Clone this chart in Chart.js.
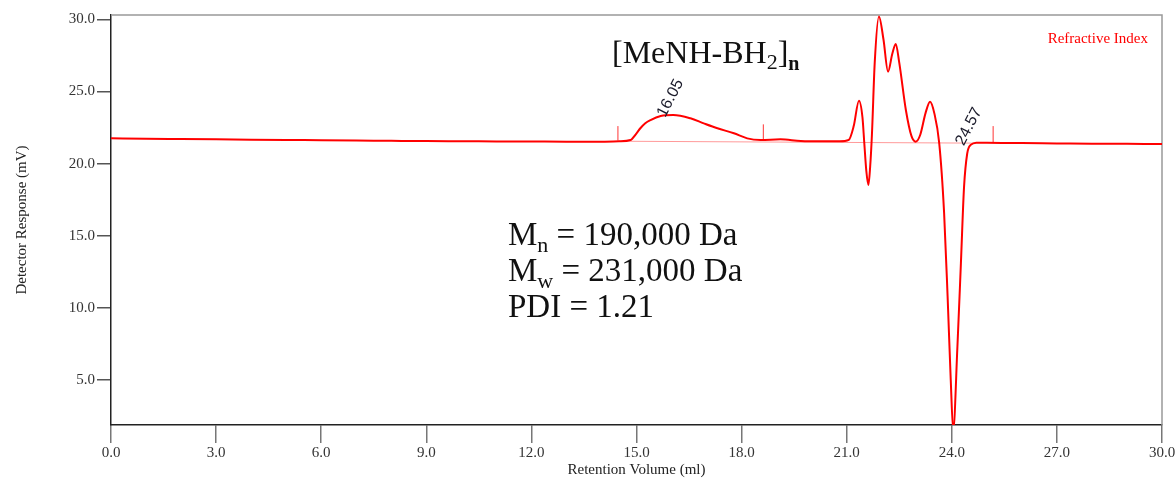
<!DOCTYPE html>
<html>
<head>
<meta charset="utf-8">
<script src="https://cdn.jsdelivr.net/npm/chart.js@4.4.1/dist/chart.umd.min.js"></script>
<style>
  html, body { margin: 0; padding: 0; background: #fff; }
  #gpc { display: block; }
</style>
</head>
<body>
<canvas id="gpc" width="1175" height="479"></canvas>
<script>
// retention volume (ml) and detector response (mV)
const retention = [
  0, 1, 2, 3, 4, 5, 6, 7, 8, 9, 10, 11, 12, 13, 14, 14.5, 14.83,
  15.0, 15.11, 15.25, 15.4, 15.69, 16.05, 16.54, 16.92, 17.31, 17.78, 18.16, 18.54,
  19.11, 19.69, 20.3, 20.8, 21.06, 21.2, 21.35, 21.45, 21.5, 21.56, 21.62, 21.67,
  21.72, 21.8, 21.92, 22.05, 22.18, 22.3, 22.4, 22.5, 22.69, 22.85, 22.97, 23.1,
  23.25, 23.38, 23.5, 23.64, 23.78, 23.88, 23.97, 24.04, 24.16, 24.26, 24.35, 24.44,
  24.54, 24.7, 25, 26, 27, 28, 29, 30
];
const response = [
  21.75, 21.72, 21.70, 21.68, 21.66, 21.64, 21.62, 21.60, 21.58, 21.56, 21.55, 21.54, 21.53, 21.52, 21.52, 21.55, 21.64,
  22.1, 22.45, 22.8, 23.02, 23.3, 23.37, 23.14, 22.79, 22.45, 22.1, 21.75, 21.64,
  21.68, 21.57, 21.55, 21.55, 21.65, 22.6, 24.36, 23.2, 21.5, 19.5, 18.52, 19.8,
  22.0, 27.0, 30.2, 28.6, 26.37, 27.6, 28.29, 27.0, 23.7, 21.9, 21.52, 22.0,
  23.5, 24.29, 23.5, 21.43, 16.6, 10.8, 5.0, 1.5, 7.3, 13.1, 18.4, 20.7,
  21.3, 21.45, 21.45, 21.42, 21.40, 21.38, 21.37, 21.36
];

// integration baseline and peak limit marks
const baseX = [14.5, 24.57];
const baseY = [21.55, 21.42];
const markX = [14.47, 18.62, 25.18];
const markLow = [21.6, 21.6, 21.45];
const markHigh = [22.6, 22.72, 22.6];

// labelled peak positions
const peakVol = [16.05, 24.57];
const peakResp = [23.37, 21.4];

const yTicks = [5, 10, 15, 20, 25, 30];

const serif = "'Liberation Serif', 'Times New Roman', serif";

const datasets = [
  {
    data: retention.map((v, i) => ({ x: v, y: response[i] })),
    borderColor: "#ff0000",
    borderWidth: 2,
    pointRadius: 0,
    cubicInterpolationMode: "monotone",
  },
  {
    data: baseX.map((v, i) => ({ x: v, y: baseY[i] })),
    borderColor: "rgba(255,0,0,0.4)",
    borderWidth: 1,
    pointRadius: 0,
  },
];
markX.forEach((v, i) => {
  datasets.push({
    data: [{ x: v, y: markLow[i] }, { x: v, y: markHigh[i] }],
    borderColor: "rgba(255,0,0,0.8)",
    borderWidth: 1,
    pointRadius: 0,
  });
});

function drawParts(ctx, x, y, parts) {
  parts.forEach((p) => {
    ctx.font = (p.bold ? "bold " : "") + p.size + "px " + serif;
    ctx.fillText(p.t, x, y + (p.dy || 0));
    x += ctx.measureText(p.t).width;
  });
}

const frame = {
  id: "frame",
  beforeDatasetsDraw(chart) {
    const a = chart.chartArea;
    const ctx = chart.ctx;
    ctx.save();
    ctx.strokeStyle = "#999";
    ctx.lineWidth = 1.5;
    ctx.beginPath();
    ctx.moveTo(a.left, a.top);
    ctx.lineTo(a.right, a.top);
    ctx.lineTo(a.right, a.bottom);
    ctx.stroke();
    ctx.restore();
  },
  afterDraw(chart) {
    const ctx = chart.ctx;
    const xs = chart.scales.x, ys = chart.scales.y;
    ctx.save();
    ctx.textBaseline = "alphabetic";
    ctx.textAlign = "left";

    // polymer name
    ctx.fillStyle = "#111";
    drawParts(ctx, 612, 63, [
      { t: "[MeNH-BH", size: 32 },
      { t: "2", size: 22, dy: 6 },
      { t: "]", size: 32 },
      { t: "n", size: 20, dy: 7, bold: true },
    ]);

    // molecular weight results
    drawParts(ctx, 508, 245, [
      { t: "M", size: 33 },
      { t: "n", size: 22, dy: 7 },
      { t: " = 190,000 Da", size: 33 },
    ]);
    drawParts(ctx, 508, 281, [
      { t: "M", size: 33 },
      { t: "w", size: 22, dy: 7 },
      { t: " = 231,000 Da", size: 33 },
    ]);
    drawParts(ctx, 508, 317, [{ t: "PDI = 1.21", size: 33 }]);

    // detector name
    ctx.fillStyle = "#ff0000";
    ctx.textAlign = "right";
    ctx.font = "15px " + serif;
    ctx.fillText("Refractive Index", 1148, 43);

    // rotated peak labels
    ctx.fillStyle = "#1a1a2a";
    ctx.textAlign = "left";
    ctx.font = "16px 'Liberation Sans', Arial, sans-serif";
    peakVol.forEach((v, i) => {
      ctx.save();
      ctx.translate(xs.getPixelForValue(v) - 8, ys.getPixelForValue(peakResp[i]) + 3);
      ctx.rotate(-63 * Math.PI / 180);
      ctx.fillText(peakVol[i].toFixed(2), 0, 0);
      ctx.restore();
    });
    ctx.restore();
  },
};

new Chart(document.getElementById("gpc"), {
  type: "line",
  data: { datasets: datasets },
  options: {
    responsive: false,
    animation: false,
    devicePixelRatio: 1,
    layout: { padding: { top: 15, right: 13, left: 0, bottom: 0 } },
    plugins: { legend: { display: false }, tooltip: { enabled: false } },
    scales: {
      x: {
        type: "linear",
        min: 0,
        max: 30,
        ticks: {
          stepSize: 3,
          padding: 1,
          color: "#333",
          font: { family: serif, size: 15 },
          callback: (v) => v.toFixed(1),
        },
        grid: { drawOnChartArea: false, tickLength: 18, color: "#777", lineWidth: 1.5 },
        border: { color: "#222", width: 1.5 },
        title: {
          display: true,
          text: "Retention Volume (ml)",
          color: "#222",
          font: { family: serif, size: 15 },
          padding: { top: 0, bottom: 0 },
        },
        afterFit(s) {
          s.height = 54;
          s.paddingLeft = 0;
          s.paddingRight = 0;
        },
      },
      y: {
        type: "linear",
        min: 1.88,
        max: 30.3,
        afterBuildTicks(s) {
          s.ticks = yTicks.map((v) => ({ value: v }));
        },
        ticks: {
          padding: 2,
          color: "#333",
          font: { family: serif, size: 15 },
          callback: (v) => Number(v).toFixed(1),
        },
        grid: { drawOnChartArea: false, tickLength: 14, color: "#555", lineWidth: 1.5 },
        border: { color: "#222", width: 1.5 },
        title: {
          display: true,
          text: "Detector Response (mV)",
          color: "#222",
          font: { family: serif, size: 15 },
          padding: { top: 13, bottom: 0 },
        },
        afterFit(s) {
          s.width = 111;
          s.paddingTop = 0;
          s.paddingBottom = 0;
        },
      },
    },
  },
  plugins: [frame],
});
</script>
</body>
</html>
